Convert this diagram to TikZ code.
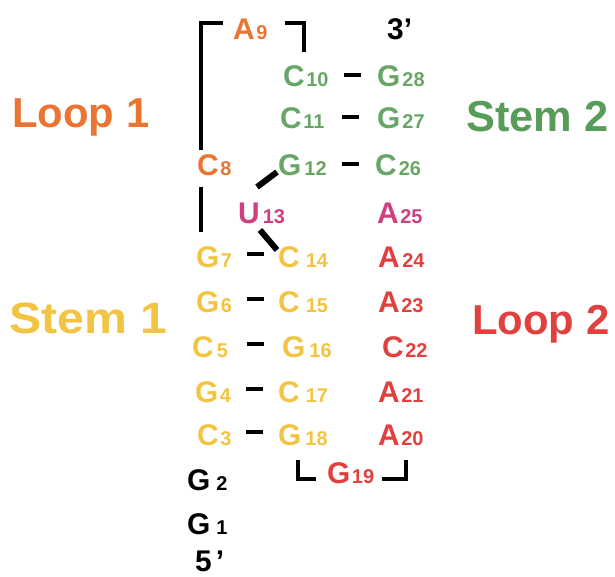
\documentclass[tikz,border=0pt]{standalone}
\usepackage{fontspec}
\setmainfont{Liberation Sans}
\usetikzlibrary{calc}

\definecolor{loopone}{RGB}{234,116,50}
\definecolor{stemtwo}{RGB}{104,166,102}
\definecolor{stemtwolbl}{RGB}{88,156,90}
\definecolor{stemone}{RGB}{243,196,66}
\definecolor{looptwo}{RGB}{224,64,62}
\definecolor{bulge}{RGB}{208,62,128}

% nucleotide: letter, optional gap, position number
\newcommand\nuc[3][1.5]{{\fontsize{30}{30}\selectfont #2}\hspace{#1bp}{\fontsize{20}{20}\selectfont #3}}

\tikzset{
  nt/.style={anchor=base west, inner sep=0pt, font=\bfseries},
  lbl/.style={anchor=base west, inner sep=0pt, font=\bfseries\fontsize{42}{42}\selectfont},
  bond/.style={line width=4.5bp},
  diag/.style={line width=6bp},
  bracket/.style={line width=4.5bp, line join=miter},
}

\begin{document}
\begin{tikzpicture}[x=1bp,y=-1bp]
\useasboundingbox (0,0) rectangle (615,577);
\fill[white] (0,0) rectangle (615,577);

% region labels
\node[lbl, text=loopone]    (L1) at (12,128)  {Loop 1};
\node[lbl, text=stemtwolbl, font=\bfseries\fontsize{43.5}{43.5}\selectfont] (S2) at (466,132) {Stem 2};
\node[lbl, text=stemone, font=\bfseries\fontsize{44}{44}\selectfont, xscale=1.1] (S1) at (9,333) {Stem 1};
\node[lbl, text=looptwo]    (L2) at (472,334) {Loop 2};

% loop 1
\node[nt, text=loopone] (A9) at (233,40)  {\nuc{A}{9}};
\node[nt, text=loopone] (C8) at (197,176) {\nuc{C}{8}};

% stem 2
\node[nt, text=stemtwo] (C10) at (283,87)  {\nuc{C}{10}};
\node[nt, text=stemtwo] (C11) at (280,129) {\nuc{C}{11}};
\node[nt, text=stemtwo] (G12) at (278,176) {\nuc[3]{G}{12}};
\node[nt, text=stemtwo] (G28) at (377,87)  {\nuc[2]{G}{28}};
\node[nt, text=stemtwo] (G27) at (377,129) {\nuc[2]{G}{27}};
\node[nt, text=stemtwo] (C26) at (375,176) {\nuc[2]{C}{26}};

% bulge
\node[nt, text=bulge] (U13) at (238,223) {\nuc[3]{U}{13}};
\node[nt, text=bulge] (A25) at (377,223) {\nuc{A}{25}};

% stem 1
\node[nt, text=stemone] (G7)  at (196,267) {\nuc{G}{7}};
\node[nt, text=stemone] (G6)  at (196,312) {\nuc{G}{6}};
\node[nt, text=stemone] (C5)  at (192,357) {\nuc[3]{C}{5}};
\node[nt, text=stemone] (G4)  at (195,402) {\nuc{G}{4}};
\node[nt, text=stemone] (C3)  at (197,445) {\nuc{C}{3}};
\node[nt, text=stemone] (C14) at (278,267) {\nuc[6]{C}{14}};
\node[nt, text=stemone] (C15) at (278,312) {\nuc[6]{C}{15}};
\node[nt, text=stemone] (G16) at (282,357) {\nuc[4]{G}{16}};
\node[nt, text=stemone] (C17) at (278,402) {\nuc[6]{C}{17}};
\node[nt, text=stemone] (G18) at (278,445) {\nuc[4]{G}{18}};

% loop 2
\node[nt, text=looptwo] (A24) at (378,267) {\nuc[2.5]{A}{24}};
\node[nt, text=looptwo] (A23) at (378,312) {\nuc{A}{23}};
\node[nt, text=looptwo] (C22) at (382,357) {\nuc{C}{22}};
\node[nt, text=looptwo] (A21) at (378,402) {\nuc{A}{21}};
\node[nt, text=looptwo] (A20) at (378,445) {\nuc{A}{20}};
\node[nt, text=looptwo] (G19) at (327,483) {\nuc{G}{19}};

% unpaired 5' end
\node[nt] (G2) at (187,490) {\nuc[6]{G}{2}};
\node[nt] (G1) at (187,534) {\nuc[6]{G}{1}};
\node[nt] (E5) at (195,571) {{\fontsize{30}{30}\selectfont 5\hspace{4bp}’}};
\node[nt] (E3) at (387,40)  {{\fontsize{30}{30}\selectfont 3’}};

% base pairs
\foreach \a/\b in {G7/C14, G6/C15, C5/G16, G4/C17, C3/G18}
  \draw[bond] ($(\a.base east)!.5!(\b.base west)$) +(-8.5,-13) -- +(8.5,-13);
\foreach \a/\b in {C10/G28, C11/G27, G12/C26}
  \draw[bond] ($(\a.base east)!.5!(\b.base west)$) +(-8.5,-12) -- +(8.5,-12);

% backbone around loop 1 and the bulge
\draw[bracket] ([shift={(4,-26)}]C8.base west) |- ([shift={(-10,-17)}]A9.base west);
\draw[bracket] ([shift={(4,11)}]C8.base west) -- ([shift={(5,-35)}]G7.base west);
\draw[bracket] ([shift={(17,-17)}]A9.base east) -| ([shift={(21,-35)}]C10.base west);
\draw[diag] ([shift={(19,-36)}]U13.base west) -- ([shift={(-1,-4)}]G12.base west);
\draw[diag] ([shift={(22,7)}]U13.base west) -- ([shift={(-1,-17)}]C14.base west);

% backbone around G19
\draw[bracket] ([shift={(20,15)}]G18.base west) |- ([shift={(-11,-4)}]G19.base west);
\draw[bracket] ([shift={(8,-4)}]G19.base east) -| ([shift={(28,15)}]A20.base west);
\end{tikzpicture}
\end{document}
